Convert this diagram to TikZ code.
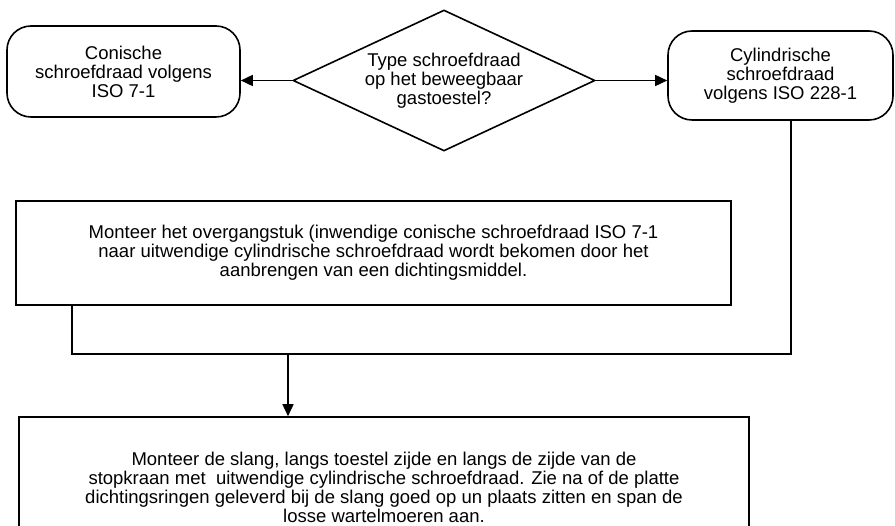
\documentclass[tikz,border=0pt]{standalone}
\usepackage{fontspec}
\setmainfont{Liberation Sans}
\usetikzlibrary{shapes.geometric,arrows.meta}
\begin{document}
\begin{tikzpicture}[x=1pt,y=-1pt,
  every node/.style={font=\fontsize{18.5}{19}\selectfont, align=center, inner sep=0pt},
  line/.style={line width=1.6pt, draw=black},
  term/.style={line, rounded corners=24pt, rectangle},
  proc/.style={line, rectangle},
  decide/.style={line, diamond, shape aspect=2.14},
  arr/.style={line, -{Triangle[length=12pt,width=11pt]}}]
\useasboundingbox (0,0) rectangle (895,526);
\node[term, minimum width=233pt, minimum height=91pt] (conic) at (123.5,71.5)
  {Conische\\schroefdraad volgens\\ISO 7-1};
\node[decide, minimum width=302pt, minimum height=141pt] (q) at (444,80.5)
  {Type schroefdraad\\op het beweegbaar\\gastoestel?};
\node[term, minimum width=225pt, minimum height=89pt] (cyl) at (780.5,75.5)
  {Cylindrische\\schroefdraad\\volgens ISO 228-1};
\node[proc, minimum width=715pt, minimum height=104pt] (box1) at (373.5,253)
  {Monteer het overgangstuk (inwendige conische schroefdraad ISO 7-1\\naar uitwendige cylindrische schroefdraad wordt bekomen door het\\aanbrengen van een dichtingsmiddel.};
\node[proc, minimum width=730pt, minimum height=140pt] (box2) at (384,487)
  {Monteer de slang, langs toestel zijde en langs de zijde van de\\stopkraan met\ \ uitwendige cylindrische schroefdraad. Zie na of de platte\\dichtingsringen geleverd bij de slang goed op un plaats zitten en span de\\losse wartelmoeren aan.};
\coordinate (jl) at (72,354);
\coordinate (jr) at (791,354);
\coordinate (jm) at (288,354);
\draw[arr] (q.west) -- (q.west -| conic.east);
\draw[arr] (q.east) -- (q.east -| cyl.west);
\draw[line] (box1.south -| jl) -- (jl) -- (jr) -- (jr |- cyl.south);
\draw[arr] (jm) -- (jm |- box2.north);
\end{tikzpicture}
\end{document}
